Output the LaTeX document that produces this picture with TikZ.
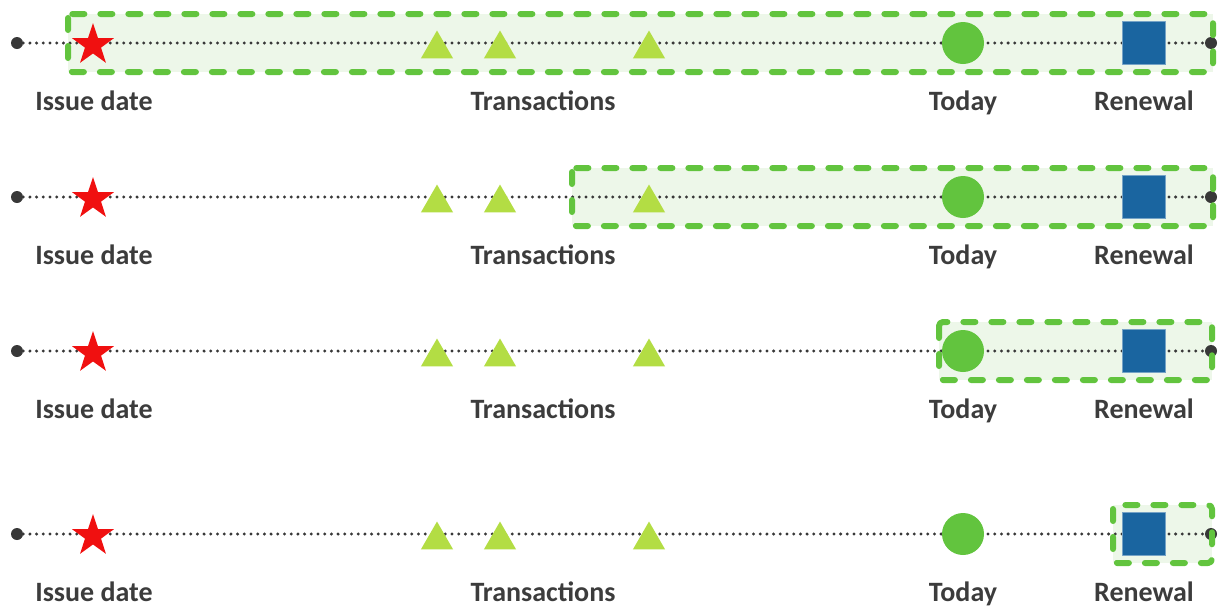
\documentclass[tikz,border=0pt]{standalone}
\usepackage{fontspec}
\setmainfont{Carlito}
\usetikzlibrary{shapes.geometric}

\definecolor{dotgray}{HTML}{383838}
\definecolor{lblgray}{HTML}{3C3C3C}
\definecolor{boxgreen}{HTML}{62C43E}
\definecolor{boxfill}{HTML}{EDF7E9}
\definecolor{starred}{HTML}{F01010}
\definecolor{trigreen}{HTML}{B3DD44}
\definecolor{todaygreen}{HTML}{62C43E}
\definecolor{renewblue}{HTML}{1A65A0}

\begin{document}
\begin{tikzpicture}[x=1pt, y=-1pt, line join=round, line cap=round,
	timeline/.style={draw=dotgray, line width=3.3pt, dash pattern=on 0pt off 6.7pt},
	enddot/.style={circle, fill=dotgray, inner sep=0pt, minimum size=12pt},
	issue/.style={star, star points=5, star point ratio=2.6, fill=starred, inner sep=0pt, minimum size=44pt},
	txn/.style={regular polygon, regular polygon sides=3, fill=trigreen, inner sep=0pt, minimum size=37pt},
	today/.style={circle, fill=todaygreen, inner sep=0pt, minimum size=42pt},
	renewal/.style={rectangle, fill=renewblue, draw=renewblue!60!white, line width=0.8pt, inner sep=0pt, minimum size=43pt},
	lbl/.style={anchor=base, text=lblgray, font=\fontsize{28}{31}\selectfont\bfseries},
	window/.style={draw=boxgreen, line width=6pt, dash pattern=on 12pt off 16pt, rounded corners=4pt}]
	% Page frame
	\useasboundingbox (0,0) rectangle (1225,606);

	% One timeline per row: row / line height / window left / window right
	\foreach \r/\y/\bx/\ex in {1/43/68/1213, 2/197/572/1213, 3/351/939/1212, 4/534/1113/1212} {
		% Window corners and fill
		\coordinate (bl\r) at (\bx,\y-29);
		\coordinate (tr\r) at (\ex,\y+29);
		\fill[boxfill] (bl\r) rectangle (tr\r);

		% Dotted time line
		\node[enddot] (s\r) at (17,\y) {};
		\node[enddot] (e\r) at (1211,\y) {};
		\draw[timeline] (s\r) -- (e\r);

		% Events
		\node[issue] (iss\r) at (93,\y+2) {};
		\node[txn] (ta\r) at (437,\y+6) {};
		\node[txn] (tb\r) at (500,\y+6) {};
		\node[txn] (tc\r) at (649,\y+6) {};
		\node[today] (tod\r) at (963,\y) {};
		\node[renewal] (ren\r) at (1144,\y) {};

		% Labels
		\node[lbl] (lissue\r) at (94,\y+67) {Issue date};
		\node[lbl] (ltxn\r) at (543,\y+67) {Transactions};
		\node[lbl] (ltoday\r) at (963,\y+67) {Today};
		\node[lbl] (lren\r) at (1144,\y+67) {Renewal};

		% Dashed window border
		\draw[window] (bl\r) rectangle (tr\r);
	}
\end{tikzpicture}
\end{document}
